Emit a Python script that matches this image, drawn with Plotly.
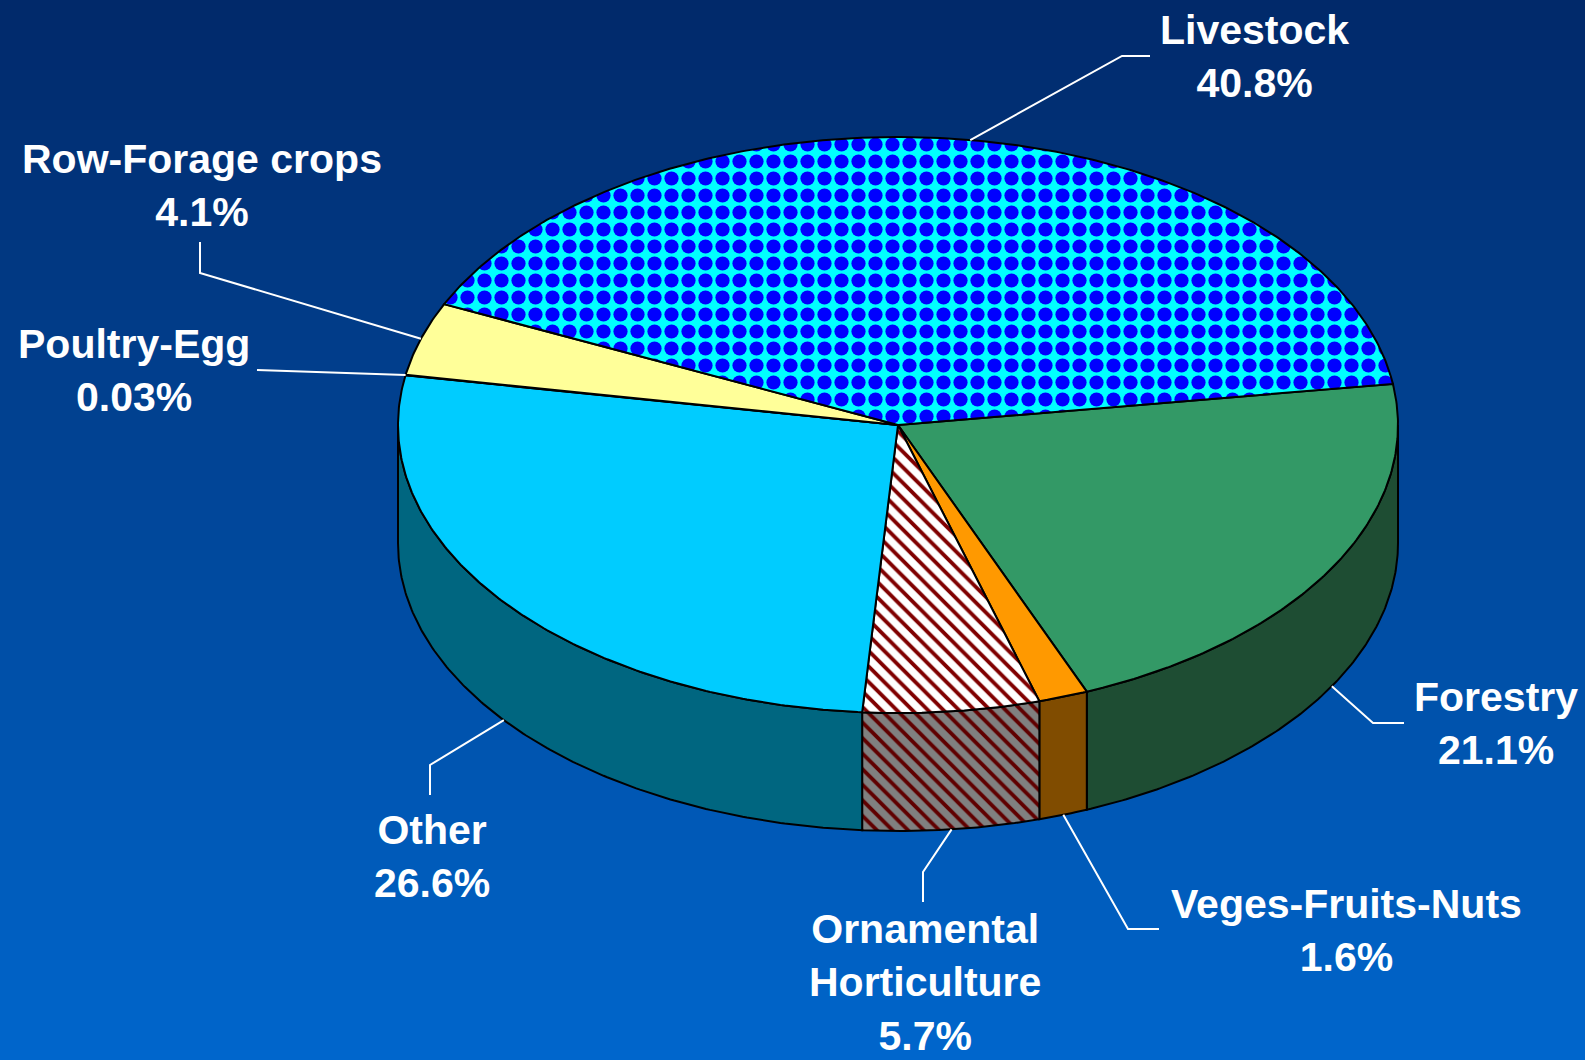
import numpy as np
import plotly.graph_objects as go

# ---------------- data ----------------
categories = ["Forestry", "Veges-Fruits-Nuts", "Ornamental<br>Horticulture", "Other",
              "Poultry-Egg", "Row-Forage crops", "Livestock"]
shares = [21.1, 1.6, 5.7, 26.6, 0.03, 4.1, 40.8]
pct_labels = ["21.1%", "1.6%", "5.7%", "26.6%", "0.03%", "4.1%", "40.8%"]

# ---------------- styles ----------------
top_colors = ["#339966", "#ff9900", "#ffffff", "#00ccff", "#ffff99", "#ffff99", "#00ffff"]
side_colors = ["#1e4d33", "#804c00", "#808080", "#006680", "#80804c", "#80804c", "#008080"]
top_patterns = [None, None, dict(shape="\\", fgcolor="#800000", bgcolor="#ffffff", size=11, solidity=0.35, fillmode="replace"),
                None, None, None,
                dict(shape=".", fgcolor="#0000ff", bgcolor="#00ffff", size=17, solidity=0.55, fillmode="replace")]
side_patterns = [None, None, dict(shape="\\", fgcolor="#600000", bgcolor="#808080", size=11, solidity=0.35, fillmode="replace"),
                 None, None, None, None]

# geometry of the tilted pie (pixel space)
W, H = 1585, 1060
CX, CY, RX, RY, DEPTH = 898, 425, 500, 288, 118
START_DEG = 8.2  # boundary Livestock / Forestry, slices run clockwise

# label placement: (text x, text y, elbow x, elbow y, end x, end y)
label_pos = [
    (1496, 723, 1373, 723, 1404, 723),
    (1346, 930, 1128, 929, 1159, 929),
    (925, 982, 923, 872, 923, 902),
    (432, 856, 430, 765, 430, 795),
    (134, 370, 257, 370, 257, 370),
    (202, 185, 200, 273, 200, 242),
    (1254, 56, 1122, 56, 1150, 56),
]

total = sum(shares)
spans = [s / total * 360.0 for s in shares]
bounds = [START_DEG]
for sp in spans:
    bounds.append(bounds[-1] - sp)


def ell(tdeg, dy=0.0):
    t = np.radians(tdeg)
    return CX + RX * np.cos(t), CY - RY * np.sin(t) + dy


def arc(t0, t1, dy=0.0):
    n = max(int(abs(t1 - t0) * 2) + 2, 3)
    ts = np.linspace(t0, t1, n)
    xs, ys = ell(ts, dy)
    return list(xs), list(ys)


fig = go.Figure()

# side walls (front half only: -180..0 deg)
for i in range(len(shares)):
    t0, t1 = bounds[i], bounds[i + 1]
    a, b = max(t1, -180.0), min(t0, 0.0)
    if a >= b:
        continue
    xt, yt = arc(b, a)
    xb, yb = arc(a, b, DEPTH)
    xs = xt + xb + [xt[0]]
    ys = yt + yb + [yt[0]]
    kw = dict(fillcolor=side_colors[i])
    if side_patterns[i]:
        kw["fillpattern"] = side_patterns[i]
    fig.add_trace(go.Scatter(x=xs, y=ys, mode="lines", fill="toself",
                             line=dict(color="black", width=2), hoverinfo="skip", **kw))

# top faces
for i in range(len(shares)):
    t0, t1 = bounds[i], bounds[i + 1]
    xa, ya = arc(t0, t1)
    xs = [CX] + xa + [CX]
    ys = [CY] + ya + [CY]
    kw = dict(fillcolor=top_colors[i])
    if top_patterns[i]:
        kw["fillpattern"] = top_patterns[i]
    fig.add_trace(go.Scatter(x=xs, y=ys, mode="lines", fill="toself",
                             line=dict(color="black", width=2), hoverinfo="skip", **kw))

# leader lines + labels
for i in range(len(shares)):
    mid = (bounds[i] + bounds[i + 1]) / 2.0
    front = np.sin(np.radians(mid)) < 0
    sx, sy = ell(mid, DEPTH if front else 0.0)
    tx, ty, ex, ey, fx, fy = label_pos[i]
    fig.add_trace(go.Scatter(x=[sx, ex, fx], y=[sy, ey, fy], mode="lines",
                             line=dict(color="white", width=2), hoverinfo="skip"))
    fig.add_annotation(x=tx, y=ty, xref="x", yref="y", showarrow=False,
                       text=f"{categories[i]}<br>{pct_labels[i]}",
                       xanchor="center", yanchor="middle", align="center",
                       font=dict(family="Liberation Sans, Arial, sans-serif", size=41,
                                 color="white", weight="bold"))

# vertical gradient background
top_rgb = np.array([0x01, 0x29, 0x6a])
bot_rgb = np.array([0x00, 0x66, 0xcc])
nb = 106
shapes = []
for k in range(nb):
    f = k / (nb - 1)
    c = (top_rgb * (1 - f) + bot_rgb * f).round().astype(int)
    shapes.append(dict(type="rect", xref="paper", yref="paper", x0=0, x1=1,
                       y0=1 - (k + 1) / nb - 0.001, y1=1 - k / nb,
                       fillcolor=f"rgb({c[0]},{c[1]},{c[2]})", line=dict(width=0), layer="below"))

fig.update_layout(
    width=W, height=H, margin=dict(l=0, r=0, t=0, b=0),
    paper_bgcolor="#01478f", plot_bgcolor="rgba(0,0,0,0)",
    showlegend=False, hovermode=False, dragmode=False,
    shapes=shapes,
    xaxis=dict(range=[0, W], visible=False, fixedrange=True),
    yaxis=dict(range=[H, 0], visible=False, fixedrange=True),
)

fig.write_html("out.html", config={"displayModeBar": False},
               post_script="document.body.style.margin='0';document.body.style.overflow='hidden';")
